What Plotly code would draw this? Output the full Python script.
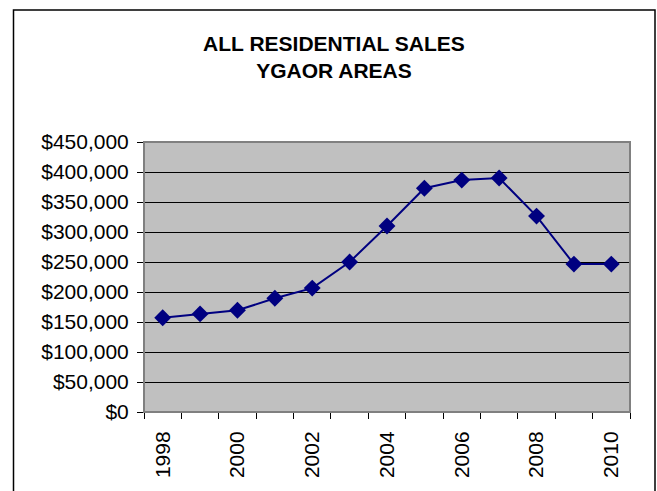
import plotly.graph_objects as go

years = [1998, 1999, 2000, 2001, 2002, 2003, 2004, 2005, 2006, 2007, 2008, 2009, 2010]
avg_price = [157000, 163500, 169500, 189500, 206500, 250000, 310000, 373000, 386500, 390000, 326500, 246500, 246500]
label_years = [1998, 2000, 2002, 2004, 2006, 2008, 2010]
title_text = "ALL RESIDENTIAL SALES<br>YGAOR AREAS"

W, H = 657, 491
ml, mr, mt, mb = 144, 27, 142, 79
pw, ph = W - ml - mr, H - mt - mb

def px_x(p):
    return (p - ml) / pw

def px_y(p):
    return (H - mb - p) / ph

fig = go.Figure()
fig.add_trace(go.Scatter(
    x=years, y=avg_price, mode="lines+markers",
    line=dict(color="#000080", width=2),
    marker=dict(symbol="diamond", size=13, color="#000080"),
    showlegend=False,
))

font = "Liberation Sans, Arial, sans-serif"

fig.update_layout(
    width=W, height=H,
    margin=dict(l=ml, r=mr, t=mt, b=mb),
    paper_bgcolor="white",
    plot_bgcolor="#C0C0C0",
    font=dict(family=font, color="black", size=21),
    title=dict(
        text=title_text,
        font=dict(family=font, size=21, color="black", weight="bold"),
        x=334 / W, xanchor="center", xref="container",
        y=1 - 51 / H, yanchor="middle", yref="container",
    ),
    xaxis=dict(
        range=[1997.5, 2010.5],
        tickmode="array", tickvals=label_years,
        ticktext=[str(y) for y in label_years],
        tickangle=-90, ticks="", showgrid=False, zeroline=False,
        showline=True, linecolor="black", linewidth=1,
        ticklabelstandoff=10,
        tickfont=dict(size=21),
        minor=dict(tickmode="array",
                   tickvals=[y - 0.5 for y in years] + [years[-1] + 0.5],
                   ticks="outside", ticklen=6, tickcolor="black", tickwidth=1,
                   showgrid=False),
    ),
    yaxis=dict(
        range=[0, 450000], dtick=50000, tick0=0,
        tickprefix="$", tickformat=",.0f",
        showgrid=True, gridcolor="black", gridwidth=1,
        zeroline=False, showline=True, linecolor="black", linewidth=1,
        ticks="outside", ticklen=6, tickcolor="black",
        ticklabelstandoff=4,
        tickfont=dict(size=21),
    ),
    shapes=[
        # plot area border
        dict(type="rect", xref="paper", yref="paper", x0=0, x1=1, y0=0, y1=1,
             line=dict(color="#808080", width=2), fillcolor="rgba(0,0,0,0)", layer="above"),
        # chart frame
        dict(type="rect", xref="paper", yref="paper",
             x0=px_x(13.5), x1=px_x(655), y0=px_y(500), y1=px_y(10),
             line=dict(color="black", width=1.5), fillcolor="rgba(0,0,0,0)", layer="above"),
    ],
)

fig.write_html("out.html")
